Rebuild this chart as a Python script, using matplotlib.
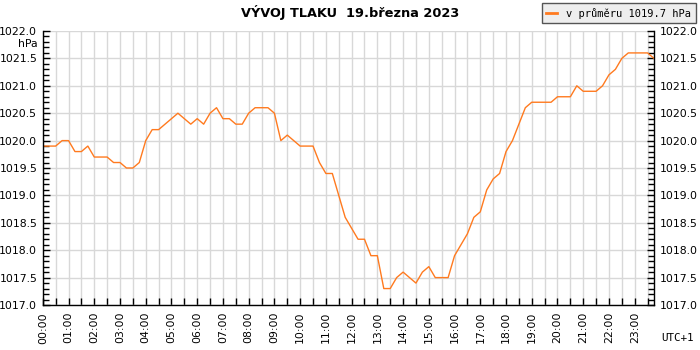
import numpy as np
import matplotlib.pyplot as plt
from matplotlib.ticker import MultipleLocator

# tlak po 15 minutach, 00:00 .. 23:45
hodiny = np.arange(96) * 0.25
tlak = [
    1019.9, 1019.9, 1019.9, 1020.0, 1020.0, 1019.8, 1019.8, 1019.9,
    1019.7, 1019.7, 1019.7, 1019.6, 1019.6, 1019.5, 1019.5, 1019.6,
    1020.0, 1020.2, 1020.2, 1020.3, 1020.4, 1020.5, 1020.4, 1020.3,
    1020.4, 1020.3, 1020.5, 1020.6, 1020.4, 1020.4, 1020.3, 1020.3,
    1020.5, 1020.6, 1020.6, 1020.6, 1020.5, 1020.0, 1020.1, 1020.0,
    1019.9, 1019.9, 1019.9, 1019.6, 1019.4, 1019.4, 1019.0, 1018.6,
    1018.4, 1018.2, 1018.2, 1017.9, 1017.9, 1017.3, 1017.3, 1017.5,
    1017.6, 1017.5, 1017.4, 1017.6, 1017.7, 1017.5, 1017.5, 1017.5,
    1017.9, 1018.1, 1018.3, 1018.6, 1018.7, 1019.1, 1019.3, 1019.4,
    1019.8, 1020.0, 1020.3, 1020.6, 1020.7, 1020.7, 1020.7, 1020.7,
    1020.8, 1020.8, 1020.8, 1021.0, 1020.9, 1020.9, 1020.9, 1021.0,
    1021.2, 1021.3, 1021.5, 1021.6, 1021.6, 1021.6, 1021.6, 1021.5,
]
hod_popisky = ["%02d:00" % h for h in range(24)]
titulek = "VÝVOJ TLAKU  19.března 2023"
legenda = "v průměru 1019.7 hPa"

barva = '#ff7a1f'
fs = 7.8

fig = plt.figure(figsize=(7, 3.5), dpi=100)
ax = fig.add_axes([42.8 / 700, 1 - 305 / 350, (654 - 42.8) / 700, 274 / 350])

ax.plot(hodiny, tlak, color=barva, lw=1.0, label=legenda)

ax.set_xlim(0, 23.75)
ax.set_ylim(1017.0, 1022.0)

ax.set_xticks(range(24))
ax.set_xticklabels(hod_popisky, rotation=90)
ax.xaxis.set_minor_locator(MultipleLocator(0.5))
ax.yaxis.set_major_locator(MultipleLocator(0.5))
ax.yaxis.set_minor_locator(MultipleLocator(0.1))
ax.yaxis.set_major_formatter(lambda v, p: "%.1f" % v)

ax.tick_params(axis='both', which='both', direction='in', width=1, colors='black', labelsize=fs)
ax.tick_params(axis='y', which='both', left=True, right=True, labelleft=True, labelright=True, pad=4)
ax.tick_params(axis='y', which='major', length=5)
ax.tick_params(axis='y', which='minor', length=4)
ax.tick_params(axis='x', which='both', length=5, pad=5)

ax.grid(True, which='major', axis='y', color='#d8d8d8', lw=1)
ax.grid(True, which='both', axis='x', color='#d8d8d8', lw=1)
ax.set_axisbelow(True)

ax.spines['top'].set_visible(False)
for s in ['left', 'right', 'bottom']:
    ax.spines[s].set_linewidth(1)

fig.text(0.5, 1 - 12 / 350, titulek, ha='center', va='center', fontsize=9.3, fontweight='bold')
fig.text(38 / 700, 1 - 44 / 350, 'hPa', ha='right', va='center', fontsize=fs)
fig.text(678 / 700, 1 - 338 / 350, 'UTC+1', ha='center', va='center', fontsize=fs,
         family='DejaVu Sans Mono')

leg = fig.legend(loc='upper right', bbox_to_anchor=(698 / 700, 1 - 1 / 350),
                 prop={'family': 'DejaVu Sans Mono', 'size': 7.5},
                 handlelength=1.0, handletextpad=0.9, borderpad=0.45, borderaxespad=0.2,
                 fancybox=False, shadow=False, framealpha=1)
leg.get_frame().set_facecolor('#eeeeee')
leg.get_frame().set_edgecolor('#555555')
leg.get_frame().set_linewidth(1)
for l in leg.get_lines():
    l.set_linewidth(2)

fig.savefig('out.png', dpi=100)
